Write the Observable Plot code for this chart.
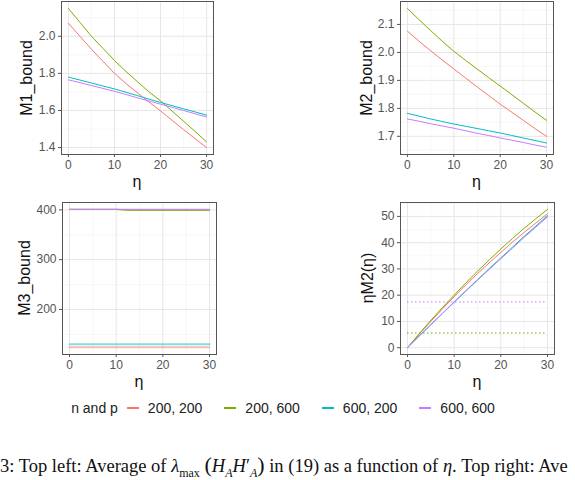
<!DOCTYPE html>
<html>
<head>
<meta charset="utf-8">
<script src="https://cdn.jsdelivr.net/npm/d3@7"></script>
<script src="https://cdn.jsdelivr.net/npm/@observablehq/plot@0.6"></script>
<style>
  html, body { margin: 0; padding: 0; background: #fff; }
  body { width: 575px; height: 480px; position: relative; overflow: hidden; font-family: "Liberation Sans", Arial, sans-serif; }
  .panel { position: absolute; }
  .ytitle { position: absolute; font-size: 16px; color: #111; transform: translate(-50%, -50%) rotate(-90deg); white-space: nowrap; }
  .xtitle { position: absolute; font-size: 16px; color: #111; transform: translate(-50%, -50%); white-space: nowrap; }
  #legend { position: absolute; top: 400px; left: 0; width: 575px; display: flex; justify-content: center; align-items: center; font-size: 14px; color: #222; white-space: nowrap; }
  #legend .key { display: inline-block; width: 12px; height: 1.5px; margin: 0 9px 0 9px; }
  #legend .lab { margin-right: 9px; }
  #caption { position: absolute; top: 452px; left: 0px; font-family: "Liberation Serif", "Times New Roman", serif; font-size: 18.5px; color: #111; white-space: nowrap; }
  #caption sub { font-size: 12px; }
  #caption .big { font-size: 22px; }
</style>
</head>
<body>
<div id="root"></div>
<div id="legend"></div>
<div id="caption">3: Top left: Average of <i>λ</i><sub>max</sub> <span class="big">(</span><i>H<sub>A</sub>H</i>′<sub><i>A</i></sub><span class="big">)</span> in (19) as a function of <i>η</i>. Top right: Ave</div>
<script>
// ---------- data ----------
const eta = [0, 2.5, 5, 7.5, 10, 12.5, 15, 17.5, 20, 22.5, 25, 27.5, 30];
const groups = ["200, 200", "200, 600", "600, 200", "600, 600"];
const colors = ["#F8766D", "#7CAE00", "#00BFC4", "#C77CFF"];

// M1_bound
const m1_200_200 = [2.07, 2.0, 1.93, 1.865, 1.80, 1.745, 1.695, 1.645, 1.598, 1.547, 1.497, 1.448, 1.40];
const m1_200_600 = [2.15, 2.075, 2.0, 1.935, 1.869, 1.81, 1.755, 1.70, 1.652, 1.597, 1.542, 1.487, 1.43];
const m1_600_200 = [1.78, 1.764, 1.748, 1.732, 1.716, 1.698, 1.68, 1.661, 1.643, 1.626, 1.609, 1.592, 1.575];
const m1_600_600 = [1.765, 1.75, 1.734, 1.719, 1.703, 1.686, 1.668, 1.651, 1.634, 1.617, 1.60, 1.582, 1.565];

// M2_bound
const m2_200_200 = [2.076, 2.04, 2.006, 1.973, 1.941, 1.909, 1.877, 1.846, 1.815, 1.786, 1.757, 1.728, 1.70];
const m2_200_600 = [2.157, 2.117, 2.078, 2.04, 2.004, 1.972, 1.941, 1.91, 1.88, 1.849, 1.818, 1.787, 1.757];
const m2_600_200 = [1.782, 1.772, 1.762, 1.753, 1.744, 1.736, 1.728, 1.72, 1.712, 1.703, 1.694, 1.685, 1.676];
const m2_600_600 = [1.762, 1.754, 1.745, 1.737, 1.729, 1.72, 1.711, 1.703, 1.694, 1.686, 1.678, 1.669, 1.661];

// M3_bound
const m3_200_200 = [124, 124, 124, 124, 124, 124, 124, 124, 124, 124, 124, 124, 124];
const m3_200_600 = [401, 401, 401, 401, 401, 399.2, 399.2, 399.2, 399.2, 399.2, 399.2, 399.2, 399.2];
const m3_600_200 = [130, 130, 130, 130, 130, 130, 130, 130, 130, 130, 130, 130, 130];
const m3_600_600 = [401, 401, 401, 401, 401, 401, 401, 401, 401, 401, 401, 401, 401];

// eta * M2(eta)
const em2_200_200 = [0, 5.1, 10.0, 14.8, 19.4, 23.9, 28.2, 32.3, 36.3, 40.2, 43.9, 47.5, 51.0];
const em2_200_600 = [0, 5.3, 10.4, 15.3, 20.0, 24.7, 29.1, 33.4, 37.6, 41.6, 45.5, 49.1, 52.7];
const em2_600_200 = [0, 4.4, 8.8, 13.1, 17.4, 21.7, 25.9, 30.1, 34.2, 38.3, 42.4, 46.3, 50.3];
const em2_600_600 = [0, 4.4, 8.7, 13.0, 17.3, 21.5, 25.7, 29.8, 33.9, 37.9, 42.0, 45.9, 49.8];
// dotted reference levels in the eta*M2 panel
const refGroups = ["200, 600", "600, 600"];
const refLevels = [5.6, 17.4];

// ticks
const xTicks = [0, 10, 20, 30];
const xMinor = [5, 15, 25];
const m1Ticks = [1.4, 1.6, 1.8, 2.0];
const m1Minor = [1.5, 1.7, 1.9, 2.1];
const m2Ticks = [1.7, 1.8, 1.9, 2.0, 2.1];
const m2Minor = [1.65, 1.75, 1.85, 1.95, 2.05, 2.15];
const m3Ticks = [200, 300, 400];
const m3Minor = [150, 250, 350];
const em2Ticks = [0, 10, 20, 30, 40, 50];
const em2Minor = [5, 15, 25, 35, 45, 55];

// ---------- helpers ----------
function rows(series) {
  return series.flatMap((vals, gi) => vals.map((v, i) => ({eta: eta[i], value: v, group: groups[gi]})));
}

function panel(o) {
  const padL = 50, padR = 20, padT = 1, padB = 32;
  const W = (o.fr - o.fl) + padL + padR;
  const H = (o.fb - o.ft) + padT + padB;
  const data = rows(o.series);
  const marks = [
    Plot.ruleX(xMinor, {stroke: "#f3f3f3", strokeWidth: 0.7}),
    Plot.ruleY(o.yMinor, {stroke: "#f3f3f3", strokeWidth: 0.7}),
    Plot.ruleX(xTicks, {stroke: "#e6e6e6", strokeWidth: 1}),
    Plot.ruleY(o.yTicks, {stroke: "#e6e6e6", strokeWidth: 1}),
    ...(o.pre || []),
    ...(o.lines || [Plot.line(data, {x: "eta", y: "value", stroke: "group", z: "group", strokeWidth: 1})]),
    ...(o.post || []),
    Plot.frame({stroke: "#555", strokeWidth: 1})
  ];
  const svg = Plot.plot({
    width: W, height: H,
    marginLeft: padL, marginRight: padR, marginTop: padT, marginBottom: padB,
    style: {fontFamily: "'Liberation Sans', Arial, sans-serif", fontSize: "12px", color: "#555", background: "transparent", overflow: "visible"},
    x: {domain: [-1.5, 31.5], ticks: xTicks, tickSize: 3, tickPadding: 3, label: null, tickFormat: d3.format("d")},
    y: {domain: o.yDomain, ticks: o.yTicks, tickSize: 3, tickPadding: 3, label: null, tickFormat: o.fmt},
    color: {domain: groups, range: colors},
    marks
  });
  const div = document.createElement("div");
  div.className = "panel";
  div.style.left = (o.fl - padL) + "px";
  div.style.top = (o.ft - padT) + "px";
  div.appendChild(svg);
  document.getElementById("root").appendChild(div);

  const yt = document.createElement("div");
  yt.className = "ytitle";
  yt.innerHTML = o.ytitle;
  yt.style.left = o.ytx + "px";
  yt.style.top = ((o.ft + o.fb) / 2) + "px";
  document.body.appendChild(yt);

  const xt = document.createElement("div");
  xt.className = "xtitle";
  xt.textContent = "η";
  xt.style.left = ((o.fl + o.fr) / 2) + "px";
  xt.style.top = (o.fb + 28) + "px";
  document.body.appendChild(xt);
}

panel({fl: 61, fr: 213, ft: 1, fb: 154, yDomain: [1.3625, 2.1875], yTicks: m1Ticks, yMinor: m1Minor, fmt: d3.format(".1f"),
  series: [m1_200_200, m1_200_600, m1_600_200, m1_600_600], ytitle: "M1_bound", ytx: 27});

panel({fl: 400, fr: 553, ft: 1, fb: 154, yDomain: [1.635, 2.182], yTicks: m2Ticks, yMinor: m2Minor, fmt: d3.format(".1f"),
  series: [m2_200_200, m2_200_600, m2_600_200, m2_600_600], ytitle: "M2_bound", ytx: 367});

const m3data = rows([m3_200_200, m3_200_600, m3_600_200, m3_600_600]);
panel({fl: 62, fr: 216, ft: 202, fb: 354, yDomain: [109.5, 414.8], yTicks: m3Ticks, yMinor: m3Minor, fmt: d3.format("d"),
  series: [], ytitle: "M3_bound", ytx: 25,
  lines: [
    Plot.line(m3data.filter(d => d.value < 300), {x: "eta", y: "value", stroke: "group", z: "group", strokeWidth: 2, strokeOpacity: 0.5}),
    Plot.line(m3data.filter(d => d.value >= 300), {x: "eta", y: "value", stroke: "group", z: "group", strokeWidth: 1.3, strokeOpacity: 0.85})
  ]});

const refRows = refGroups.map((g, i) => ({group: g, level: refLevels[i]}));
panel({fl: 400, fr: 554, ft: 202, fb: 354, yDomain: [-2.6, 55.3], yTicks: em2Ticks, yMinor: em2Minor, fmt: d3.format("d"),
  series: [em2_200_200, em2_200_600, em2_600_200, em2_600_600], ytitle: "ηM2(η)", ytx: 368,
  post: [Plot.ruleY(refRows, {y: "level", x1: xTicks[0], x2: xTicks[xTicks.length - 1], stroke: "group", strokeWidth: 1, strokeDasharray: "1.5,2.5"})]});

// ---------- legend ----------
const lg = document.getElementById("legend");
const title = document.createElement("span");
title.textContent = "n and p";
lg.appendChild(title);
groups.forEach((g, i) => {
  const k = document.createElement("span");
  k.className = "key";
  k.style.background = colors[i];
  lg.appendChild(k);
  const l = document.createElement("span");
  l.className = "lab";
  l.textContent = g;
  if (i < groups.length - 1) l.style.marginRight = "13px";
  lg.appendChild(l);
});
</script>
</body>
</html>
